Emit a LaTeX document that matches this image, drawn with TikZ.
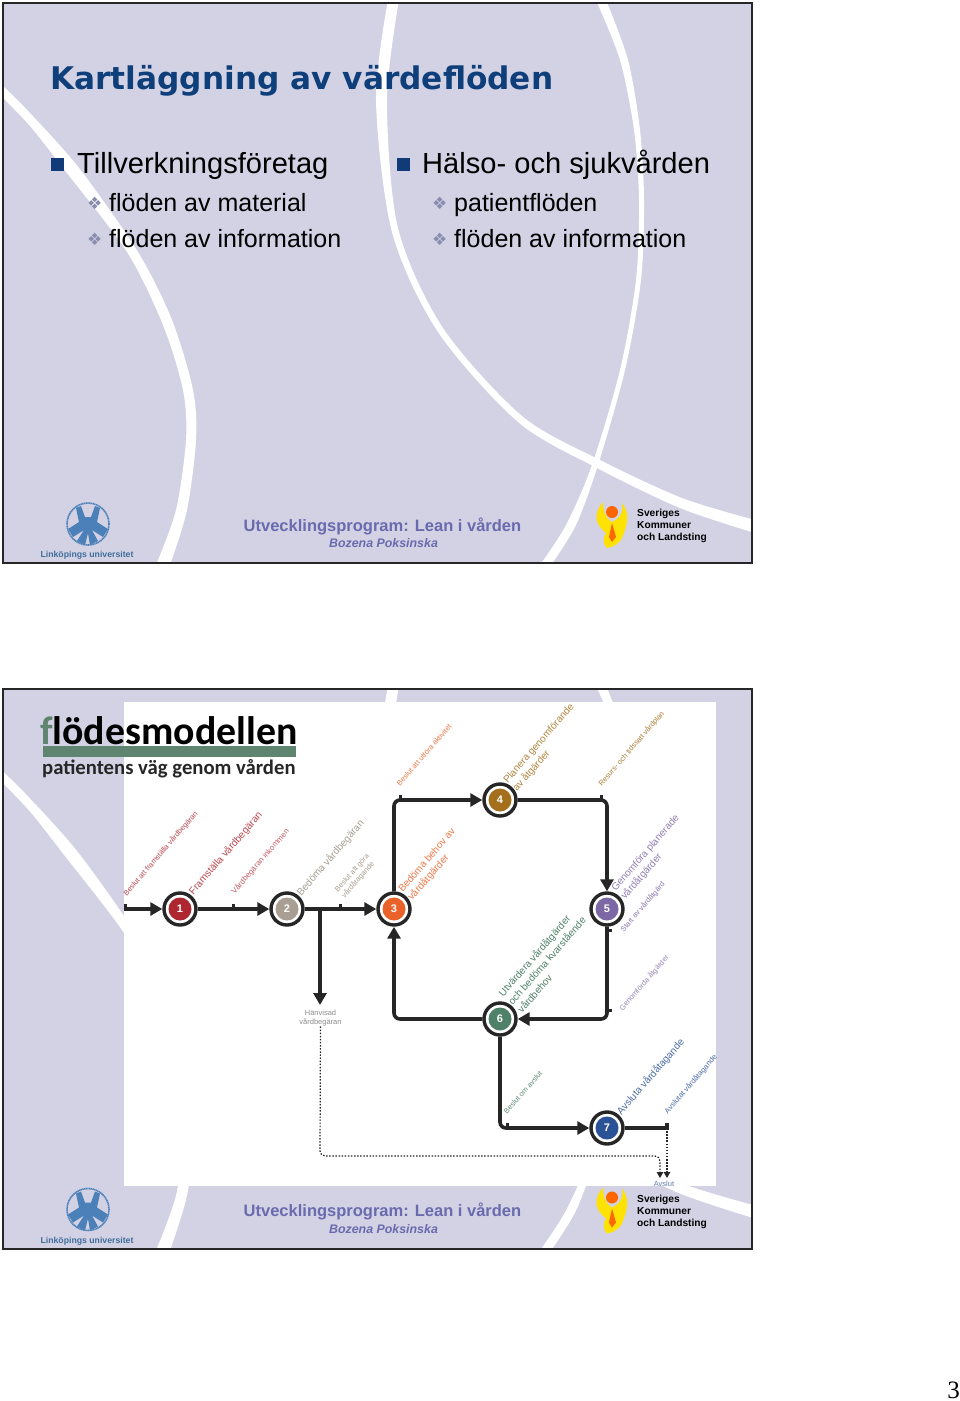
\documentclass[tikz,border=0pt]{standalone}
\usepackage{fontspec}
\setmainfont{Liberation Sans}
\newfontfamily\dejavu{DejaVu Sans}
\newfontfamily\titlefont{DejaVu Sans}
\newfontfamily\carlitofont{Carlito}
\newfontfamily\seriffont{Liberation Serif}
\usetikzlibrary{arrows.meta}
\definecolor{slidebg}{HTML}{D2D2E4}
\definecolor{titleblue}{HTML}{0E3F7A}
\definecolor{navy}{HTML}{103A78}
\definecolor{diamondc}{HTML}{8A8CB0}
\definecolor{footblue}{HTML}{6A6AAE}
\definecolor{liublue}{HTML}{4C80B8}
\definecolor{ink}{HTML}{262626}
\definecolor{cRed}{HTML}{AE2730}
\definecolor{cTaupe}{HTML}{A89E92}
\definecolor{cOrange}{HTML}{E8622A}
\definecolor{cBrown}{HTML}{A4701E}
\definecolor{cPurple}{HTML}{7C68A4}
\definecolor{cGreen}{HTML}{4F8068}
\definecolor{cBlue}{HTML}{2A5296}
\definecolor{barGreen}{HTML}{5F8570}
\tikzset{
  x=1pt,y=-1pt,
  head/.style={anchor=base west,inner sep=0,text=black,font=\fontsize{29.1}{34}\selectfont},
  sub/.style={anchor=base west,inner sep=0,text=black,font=\fontsize{25}{30}\selectfont},
  sqbullet/.style={fill=navy,minimum size=13pt,inner sep=0},
  dbullet/.style={anchor=base west,inner sep=0,text=diamondc,font=\dejavu\fontsize{17}{20}\selectfont},
  flow/.style={draw=ink,line width=3.6pt,rounded corners=6pt},
  arr/.style={flow,-{Triangle[length=12pt,width=13pt]}},
  stub/.style={draw=ink,line width=3pt},
  dots/.style={draw=ink,line width=1.2pt,dash pattern=on 1.5pt off 1.6pt,rounded corners=5pt,-{Triangle[length=6pt,width=6.5pt]}},
  stepc/.style={circle,draw=ink,line width=3.4pt,fill=white,minimum size=32pt,inner sep=0},
  lab/.style={rotate=49,inner sep=0,anchor=north west,align=left,text=#1,font=\fontsize{10}{12.5}\selectfont},
  small/.style={rotate=49,inner sep=0,anchor=west,align=left,text=#1,font=\fontsize{7.4}{9}\selectfont},
}
\newcommand{\stepcircle}[3]{%
  \node[stepc,
    path picture={\fill[#3] (path picture bounding box.center) circle (11.5pt);},
    text=white,font=\bfseries\fontsize{11}{13}\selectfont] (#1) at #2 {\phantom{0}};}
\newcommand{\slideback}[1]{%
\begin{scope}[yshift=#1]
  \begin{scope}
    \clip (3,3) rectangle (752,563);
    \fill[slidebg] (3,3) rectangle (752,563);
    \fill[white] plot[smooth] coordinates {(3,86) (30,113) (79,168) (138,252) (172,320) (193,390) (196,440) (187,510) (170,565)}
      -- plot[smooth] coordinates {(156,565) (176,510) (186,440) (183,390) (163,325) (127,252) (63,168) (30,126) (3,98)} -- cycle;
    \fill[white] plot[smooth] coordinates {(388,0) (376,100) (392,232) (438,332) (518,422) (595,467) (680,508) (755,533)}
      -- plot[smooth] coordinates {(755,520) (682,498) (600,460) (522,416) (443,328) (398,228) (387,100) (399,0)} -- cycle;
    \fill[white] plot[smooth] coordinates {(596,0) (620,60) (634,130) (639,200) (636,280) (620,370) (592,465) (566,525) (540,565)}
      -- plot[smooth] coordinates {(551,565) (576,525) (598,465) (625,370) (641,280) (644,200) (640,130) (628,60) (606,0)} -- cycle;
  \end{scope}
  \draw[line width=2pt,draw=black!85] (3,3) rectangle (752,563);
  % Linkoping logo
  \draw[liublue,line width=1.6pt,dash pattern=on 1.2pt off .5pt] (88,524) circle (21pt);
  \fill[liublue] (81,506) -- (85,517) -- (91,517) -- (95,506) -- (100,508) -- (97,522) -- (108,529) -- (103,537) -- (92,530) -- (98,541) -- (90,545) -- (88,533) -- (85,545) -- (77,541) -- (84,530) -- (73,537) -- (68,529) -- (79,522) -- (76,508) -- cycle;
  \node[inner sep=0,text=liublue!85!black,font=\bfseries\fontsize{8.7}{10}\selectfont] at (87,555.5) {Linköpings universitet};
  % footer
  \node[inner sep=0,text=footblue,font=\bfseries\fontsize{16.5}{20}\selectfont] at (382.5,526) {Utvecklingsprogram: Lean i vården};
  \node[inner sep=0,text=footblue,font=\bfseries\itshape\fontsize{12.4}{15}\selectfont] at (383.5,543.5) {Bozena Poksinska};
  % SKL logo
  \fill[yellow!85!orange] (603,502) .. controls (592,515) and (596,525) .. (606,533) .. controls (602,540) and (604,545) .. (607,548) .. controls (612,547) and (618,545) .. (622,538) .. controls (625,530) and (632,515) .. (622,503) .. controls (624,512) and (620,518) .. (612,522) .. controls (605,518) and (603,510) .. (603,502) -- cycle;
  \fill[orange!80!red] (612,512) circle (6pt);
  \fill[orange!80!red] (612,523) -- (616,537) -- (612,542) -- (609,537) -- cycle;
  \node[inner sep=0,anchor=west,align=left,text=black,font=\bfseries\fontsize{10.2}{12}\selectfont] at (637,526) {Sveriges\\Kommuner\\och Landsting};
\end{scope}}
\begin{document}
\begin{tikzpicture}
\useasboundingbox (0,0) rectangle (960,1401);
\fill[white] (0,0) rectangle (960,1401);
\slideback{0pt}
\slideback{-685.5pt}
% slide 1 text
\node[anchor=base west,inner sep=0,text=titleblue,font=\titlefont\bfseries\fontsize{31.2}{36}\selectfont] (title) at (50,89) {Kartläggning av värdeflöden};
\node[sqbullet] (bl1) at (57,164) {};
\node[head] (tl) at (77,173) {Tillverkningsföretag};
\node[dbullet] (d1) at (87,209) {❖};
\node[sub] (s1) at (109,211) {flöden av material};
\node[dbullet] (d2) at (87,245) {❖};
\node[sub] (s2) at (109,247) {flöden av information};
\node[sqbullet] (bl2) at (403,164) {};
\node[head] (tr) at (422,173) {Hälso- och sjukvården};
\node[dbullet] (d3) at (432,209) {❖};
\node[sub] (s3) at (454,211) {patientflöden};
\node[dbullet] (d4) at (432,245) {❖};
\node[sub] (s4) at (454,247) {flöden av information};
% slide 2 picture
\fill[white] (123.5,702) rectangle (716,1186);
\node[anchor=base west,inner sep=0,text=black,font=\carlitofont\bfseries\fontsize{39.8}{46}\selectfont] (fm) at (40,744) {\textcolor{barGreen}{f}lödesmodellen};
\fill[barGreen] (43,746) rectangle (296,757);
\node[anchor=base west,inner sep=0,text=black!85,font=\carlitofont\bfseries\fontsize{20.7}{26}\selectfont] (fs) at (42,774) {patientens väg genom vården};
% steps
\stepcircle{n1}{(180,909)}{cRed}
\stepcircle{n2}{(287,909)}{cTaupe}
\stepcircle{n3}{(394,909)}{cOrange}
\stepcircle{n4}{(500,800)}{cBrown}
\stepcircle{n5}{(607,909)}{cPurple}
\stepcircle{n6}{(500,1019)}{cGreen}
\stepcircle{n7}{(607,1128)}{cBlue}
\foreach \n/\t in {n1/1,n2/2,n3/3,n4/4,n5/5,n6/6,n7/7}
  \node[inner sep=0,text=white,font=\bfseries\fontsize{11}{13}\selectfont] at (\n) {\t};
% coordinates
\coordinate (in) at (124,909);
\coordinate (branch) at (320,909);
\coordinate (ref) at (320,1005);
\coordinate (end) at (667,1128);
\coordinate (tipA) at (660,1178);
\coordinate (tipB) at (667,1178);
% connectors
\draw[arr] (in) -- (n1);
\draw[arr] (n1) -- (n2);
\draw[arr] (n2) -- (n3);
\draw[arr] (branch) -- (ref);
\draw[arr] (n3) |- (n4);
\draw[arr] (n4) -| (n5);
\draw[arr] (n5) |- (n6);
\draw[arr] (n6) -| (n3);
\draw[arr] (n6) |- (n7);
\draw[flow] (n7) -- (end);
% ticks
\draw[stub] (125,904) -- (125,909);
\draw[stub] (233.5,904) -- (233.5,909);
\draw[stub] (340,904) -- (340,909);
\draw[stub] (400,795) -- (400,800);
\draw[stub] (601,795) -- (601,800);
\draw[stub] (607,930) -- (612,930);
\draw[stub] (607,1010) -- (612,1010);
\draw[stub] (507,1123) -- (507,1128);
\draw[line width=4.5pt,draw=ink] (667,1123) -- (667,1130);
% dotted
\node[inner sep=0,align=center,text=black!45,font=\fontsize{7.5}{9.5}\selectfont] (hv) at (320.5,1018) {Hänvisad\\vårdbegäran};
\draw[dots] (hv) -- (320,1156) -- (660,1156) -- (tipA);
\draw[dots] (end) -- (tipB);
\node[inner sep=0,text=cBlue!75,font=\fontsize{7.5}{9}\selectfont] (avs) at (664,1184) {Avslut};
% labels
\node[small=cRed!85] at (125,895) {Beslut att framställa vårdbegäran};
\node[lab=cRed!85] at (187,890) {Framställa vårdbegäran};
\node[small=cRed!75] at (233,893) {\fontsize{7.8}{9}\selectfont Vårdbegäran inkommen};
\node[lab=cTaupe] at (295,891) {Bedöma vårdbegäran};
\node[small=cTaupe] at (340,894) {Beslut att göra\\vårdåtagande};
\node[lab=cOrange!85] at (397,888) {Bedöma behov av\\vårdåtgärder};
\node[small=cOrange!85] at (398,785) {Beslut att utföra aktivitet};
\node[lab=cBrown!85] at (502,779) {Planera genomförande\\av åtgärder};
\node[small=cBrown!90] at (600,785) {Resurs- och tidssatt vårdplan};
\node[lab=cPurple!85] at (610,887) {Genomföra planerade\\vårdåtgärder};
\node[small=cPurple!90] at (622,931) {Start av vårdåtgärd};
\node[small=cPurple!80] at (621,1010) {Genomförda åtgärder};
\node[lab=cGreen] at (497,992) {Utvärdera vårdåtgärder\\och bedöma kvarstående\\vårdbehov};
\node[small=cGreen!90] at (505,1113) {Beslut om avslut};
\node[lab=cBlue!85] at (615,1110) {Avsluta vårdåtagande};
\node[small=cBlue!85] at (666,1113) {\fontsize{7.6}{9}\selectfont Avslutat vårdåtagande};
% page number
\node[anchor=base,inner sep=0,text=black,font=\seriffont\fontsize{25}{30}\selectfont] (pg) at (953.5,1398) {3};
\end{tikzpicture}
\end{document}
